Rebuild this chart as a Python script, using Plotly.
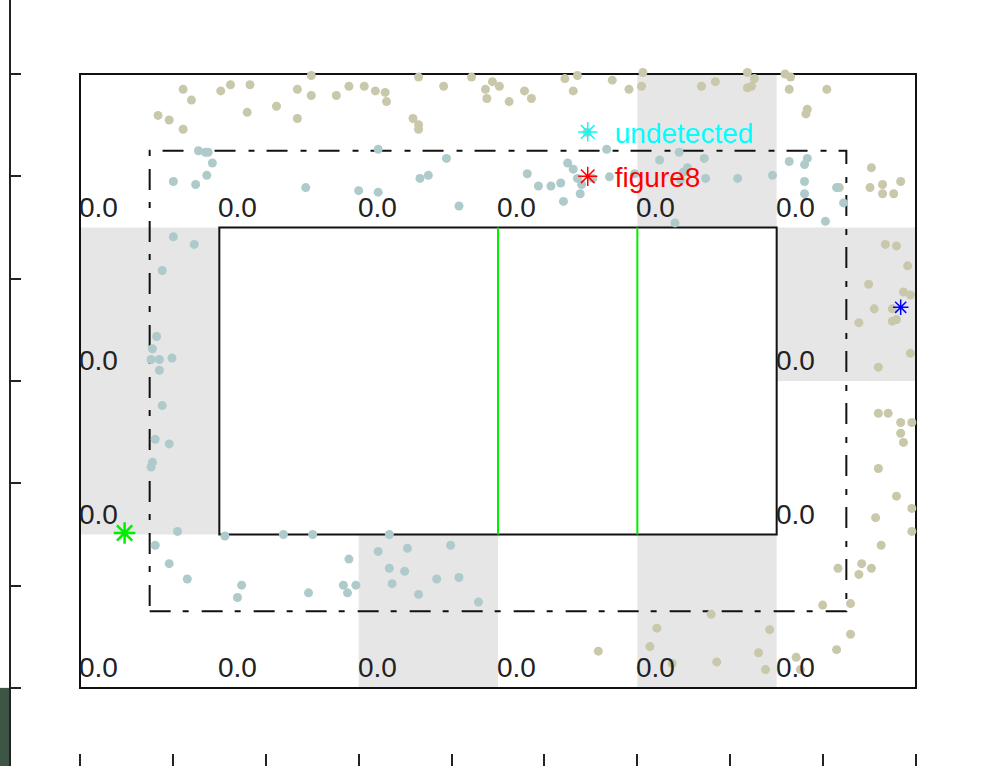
import plotly.graph_objects as go

# ---------------- data (cell units: x 0..6 columns, y 0..4 rows) ----------------
khaki_x = [1.66, 0.74, 0.80, 1.01, 1.08, 1.22, 0.56, 0.64, 0.74, 1.20, 1.41, 1.56, 1.66, 1.56,
           2.43, 1.84, 1.93, 2.04, 2.12, 2.19, 2.20, 2.61, 2.81, 2.91, 2.92, 2.96, 3.01, 3.08,
           3.19, 3.24, 2.39, 2.43, 2.43, 3.48, 3.57, 3.54, 3.82, 3.94, 4.03, 4.04, 3.64, 4.46,
           4.56, 4.79, 4.84, 4.79, 4.82, 5.06, 5.10, 5.09, 5.36, 5.22, 5.21, 5.68, 5.67, 5.76,
           5.76, 5.84, 5.89, 5.45, 5.78, 5.86, 5.94, 5.66, 5.91, 5.96, 5.70, 5.83, 5.86, 5.83,
           5.59, 5.96, 5.73, 5.73, 5.80, 5.89, 5.97, 5.89, 5.91, 5.73, 5.86, 5.97, 5.71, 5.97,
           5.75, 5.44, 5.59, 5.61, 5.68, 5.33, 5.53, 5.43, 5.53, 5.17, 5.14, 4.95, 4.92, 4.87,
           4.57, 4.53, 4.25, 4.14, 4.09, 3.72]
khaki_y = [3.99, 3.90, 3.83, 3.89, 3.93, 3.93, 3.73, 3.70, 3.64, 3.75, 3.79, 3.90, 3.86, 3.71,
           3.98, 3.86, 3.92, 3.92, 3.89, 3.88, 3.82, 3.92, 3.98, 3.90, 3.84, 3.95, 3.92, 3.82,
           3.89, 3.84, 3.71, 3.67, 3.64, 3.97, 3.99, 3.89, 3.96, 3.90, 3.92, 4.01, 3.62, 3.92,
           3.95, 4.01, 3.97, 3.91, 3.92, 4.00, 3.98, 3.90, 3.90, 3.77, 3.74, 3.39, 3.26, 3.28,
           3.22, 3.22, 3.30, 3.26, 2.89, 2.88, 2.75, 2.63, 2.58, 2.56, 2.47, 2.47, 2.40, 2.39,
           2.38, 2.18, 2.09, 1.79, 1.79, 1.73, 1.73, 1.66, 1.60, 1.43, 1.25, 1.17, 1.11, 1.02,
           0.93, 0.78, 0.74, 0.81, 0.78, 0.54, 0.55, 0.25, 0.35, 0.12, 0.20, 0.38, 0.12, 0.23,
           0.17, 0.48, 0.16, 0.39, 0.27, 0.24]

blue_x = [0.85, 0.90, 0.92, 0.95, 0.67, 0.83, 0.91, 1.62, 0.67, 0.82, 2.14, 2.63, 2.44, 2.50,
          2.00, 2.14, 2.72, 3.21, 3.29, 3.38, 3.45, 3.50, 3.54, 3.57, 3.60, 3.59, 3.47, 3.68,
          3.78, 3.80, 3.98, 4.16, 4.30, 4.36, 4.33, 4.31, 4.48, 4.49, 4.72, 4.97, 5.09, 5.22,
          5.20, 5.20, 5.20, 5.43, 5.48, 5.35, 4.27, 0.59, 0.55, 0.52, 0.51, 0.57, 0.66, 0.57,
          0.59, 0.54, 0.64, 0.52, 0.51, 0.70, 0.54, 0.64, 0.77, 1.16, 1.13, 1.64, 1.04, 1.46,
          1.67, 2.22, 1.93, 1.89, 1.92, 1.98, 2.14, 2.35, 2.22, 2.33, 2.24, 2.43, 2.56, 2.66,
          2.72, 2.86]
blue_y = [3.50, 3.49, 3.49, 3.42, 3.30, 3.28, 3.34, 3.26, 2.94, 2.89, 3.51, 3.45, 3.32, 3.34,
          3.24, 3.23, 3.14, 3.35, 3.27, 3.27, 3.29, 3.42, 3.38, 3.32, 3.28, 3.22, 3.17, 3.32,
          3.51, 3.33, 3.35, 3.44, 3.49, 3.39, 3.36, 3.31, 3.45, 3.32, 3.32, 3.34, 3.43, 3.45,
          3.41, 3.30, 3.22, 3.26, 3.16, 3.04, 3.03, 2.72, 2.29, 2.21, 2.14, 2.14, 2.15, 2.07,
          1.84, 1.62, 1.59, 1.47, 1.44, 1.02, 0.93, 0.81, 0.71, 0.67, 0.59, 0.62, 0.99, 1.00,
          1.00, 1.00, 0.84, 0.67, 0.62, 0.67, 0.89, 0.91, 0.78, 0.76, 0.68, 0.61, 0.71, 0.93,
          0.72, 0.56]

green_star = (0.32, 1.01)
blue_star = (5.89, 2.48)

# grid cells of the outer ring that are shaded (col, row-from-bottom)
shaded_cells = [(0, 1), (0, 2), (2, 0), (4, 0), (4, 3), (5, 2)]
# labels at the lower-left corner of each ring cell
label_x = [0, 1, 2, 3, 4, 5, 0, 5, 0, 5, 0, 1, 2, 3, 4, 5]
label_y = [3, 3, 3, 3, 3, 3, 2, 2, 1, 1, 0, 0, 0, 0, 0, 0]
label_text = ["0.0"] * 16
divider_x = [3, 4]

x_ticks = [0, 0.6667, 1.3333, 2, 2.6667, 3.3333, 4, 4.6667, 5.3333, 6]
y_ticks = [0, 0.6667, 1.3333, 2, 2.6667, 3.3333, 4]

legend_names = ["undetected", "figure8"]
legend_colors = ["#00ffff", "#ff0000"]

# ---------------- figure ----------------
fig = go.Figure()

fig.add_trace(go.Scatter(x=khaki_x, y=khaki_y, mode="markers", showlegend=False,
                         marker=dict(color="#c9c8ab", size=9, symbol="circle"),
                         hoverinfo="skip"))
fig.add_trace(go.Scatter(x=blue_x, y=blue_y, mode="markers", showlegend=False,
                         marker=dict(color="#afcaca", size=9, symbol="circle"),
                         hoverinfo="skip"))
fig.add_trace(go.Scatter(x=[green_star[0]], y=[green_star[1]], mode="markers", showlegend=False,
                         marker=dict(symbol="asterisk-open", size=18, color="#00ee00",
                                     line=dict(color="#00ee00", width=2.5))))
fig.add_trace(go.Scatter(x=[green_star[0]], y=[green_star[1]], mode="markers", showlegend=False,
                         marker=dict(symbol="circle", size=6, color="#00ee00")))
fig.add_trace(go.Scatter(x=[blue_star[0]], y=[blue_star[1]], mode="markers", showlegend=False,
                         marker=dict(symbol="asterisk-open", size=13, color="#0000ff",
                                     line=dict(color="#0000ff", width=1.5))))
for name, col in zip(legend_names, legend_colors):
    fig.add_trace(go.Scatter(x=[None], y=[None], mode="markers", legendgroup=name,
                             name=f"<span style='color:{col}'>{name}</span>",
                             marker=dict(symbol="asterisk-open", size=16, color=col,
                                         line=dict(color=col, width=1.5))))

shapes = []
for (c, r) in shaded_cells:
    shapes.append(dict(type="rect", xref="x", yref="y", x0=c, x1=c + 1, y0=r, y1=r + 1,
                       fillcolor="#e6e6e6", line=dict(width=0), layer="below"))
shapes.append(dict(type="rect", xref="x", yref="y", x0=1, x1=5, y0=1, y1=3,
                   fillcolor="white", line=dict(color="#111111", width=2), layer="below"))
shapes.append(dict(type="rect", xref="x", yref="y", x0=0, x1=6, y0=0, y1=4,
                   line=dict(color="#111111", width=2), layer="below"))
shapes.append(dict(type="rect", xref="x", yref="y", x0=0.5, x1=5.5, y0=0.5, y1=3.5,
                   line=dict(color="#111111", width=2, dash="21px,12px,6px,13px"), layer="below"))
for dx in divider_x:
    shapes.append(dict(type="line", xref="x", yref="y", x0=dx, x1=dx, y0=1, y1=3,
                       line=dict(color="#00ee00", width=2), layer="below"))
# dark strip at lower-left edge of the picture
shapes.append(dict(type="rect", xref="paper", yref="paper", x0=-0.0113, x1=-0.001,
                   y0=0, y1=0.102, fillcolor="#3d5545", line=dict(width=0), layer="below"))

annotations = []
for lx, ly, lt in zip(label_x, label_y, label_text):
    annotations.append(dict(x=lx, y=ly, xref="x", yref="y", text=lt, showarrow=False,
                            xanchor="left", yanchor="bottom", xshift=-3, yshift=3,
                            font=dict(family="Liberation Sans", size=28, color="#222222")))

fig.update_layout(
    width=984, height=766,
    margin=dict(l=11, r=0, t=0, b=0, pad=0),
    paper_bgcolor="white", plot_bgcolor="white",
    shapes=shapes, annotations=annotations,
    showlegend=True,
    legend=dict(x=0.565, y=0.86, xanchor="left", yanchor="top",
                bgcolor="rgba(0,0,0,0)", borderwidth=0, itemwidth=44,
                tracegroupgap=5,
                font=dict(family="Liberation Sans", size=28)),
    xaxis=dict(range=[-0.4952, 6.488], showgrid=False, zeroline=False,
               showline=True, linecolor="#888888", linewidth=1,
               tickmode="array", tickvals=x_ticks, ticks="inside", ticklen=12,
               tickwidth=2, tickcolor="#222222", showticklabels=False),
    yaxis=dict(range=[-0.508, 4.482], showgrid=False, zeroline=False,
               showline=True, linecolor="#222222", linewidth=2,
               tickmode="array", tickvals=y_ticks, ticks="inside", ticklen=10,
               tickwidth=2, tickcolor="#222222", showticklabels=False),
)

fig.write_html("out.html", config={"displayModeBar": False},
               post_script="document.body.style.margin='0';document.body.style.padding='0';")
